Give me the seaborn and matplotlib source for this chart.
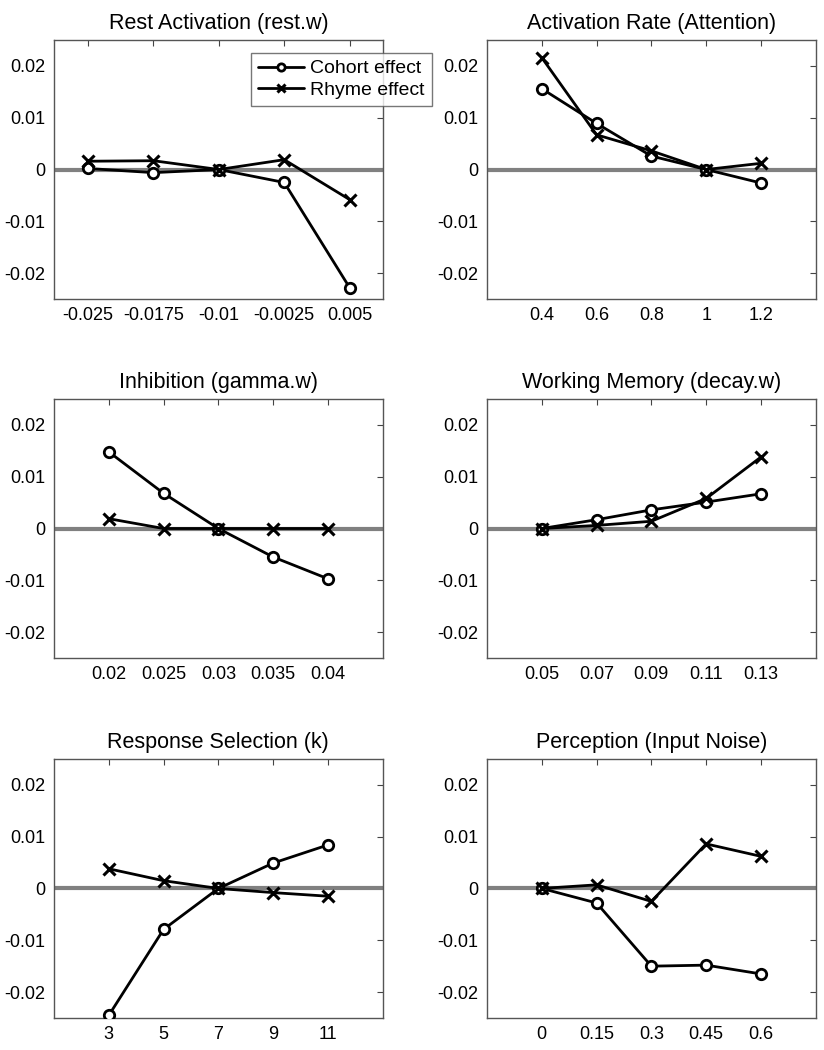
import matplotlib
matplotlib.use('Agg')
import matplotlib.pyplot as plt
import seaborn as sns
import pandas as pd

# ── DATA ──────────────────────────────────────────────────────────────────────
TITLES = [
    "Rest Activation (rest.w)",
    "Activation Rate (Attention)",
    "Inhibition (gamma.w)",
    "Working Memory (decay.w)",
    "Response Selection (k)",
    "Perception (Input Noise)",
]

X_REST    = [-0.025, -0.0175, -0.01, -0.0025, 0.005]
X_ATTN    = [0.4, 0.6, 0.8, 1.0, 1.2]
X_GAMMA   = [0.02, 0.025, 0.03, 0.035, 0.04]
X_DECAY   = [0.05, 0.07, 0.09, 0.11, 0.13]
X_K       = [3, 5, 7, 9, 11]
X_NOISE   = [0, 0.15, 0.3, 0.45, 0.6]

XLABELS_REST  = ["-0.025", "-0.0175", "-0.01", "-0.0025", "0.005"]
XLABELS_ATTN  = ["0.4", "0.6", "0.8", "1", "1.2"]
XLABELS_GAMMA = ["0.02", "0.025", "0.03", "0.035", "0.04"]
XLABELS_DECAY = ["0.05", "0.07", "0.09", "0.11", "0.13"]
XLABELS_K     = ["3", "5", "7", "9", "11"]
XLABELS_NOISE = ["0", "0.15", "0.3", "0.45", "0.6"]

COHORT_REST  = [0.0002, -0.0006, 0.0, -0.0025, -0.0228]
RHYME_REST   = [0.0016, 0.0017, 0.0, 0.0019, -0.0058]
COHORT_ATTN  = [0.0156, 0.0089, 0.0026, 0.0, -0.0026]
RHYME_ATTN   = [0.0216, 0.0067, 0.0036, 0.0, 0.0012]
COHORT_GAMMA = [0.0148, 0.0068, 0.0, -0.0055, -0.0097]
RHYME_GAMMA  = [0.0019, 0.0, 0.0, 0.0, 0.0]
COHORT_DECAY = [0.0, 0.0017, 0.0036, 0.0051, 0.0067]
RHYME_DECAY  = [0.0, 0.0006, 0.0014, 0.0058, 0.0138]
COHORT_K     = [-0.0245, -0.0079, 0.0, 0.0049, 0.0084]
RHYME_K      = [0.0038, 0.0015, 0.0, -0.0008, -0.0015]
COHORT_NOISE = [0.0, -0.0028, -0.0150, -0.0148, -0.0165]
RHYME_NOISE  = [0.0, 0.0007, -0.0025, 0.0086, 0.0062]

YTICKS  = [-0.02, -0.01, 0, 0.01, 0.02]
YLABELS = ["-0.02", "-0.01", "0", "0.01", "0.02"]
# ─────────────────────────────────────────────────────────────────────────────

PANELS = [
    (X_REST,  XLABELS_REST,  COHORT_REST,  RHYME_REST,  (-0.0289, 0.0088)),
    (X_ATTN,  XLABELS_ATTN,  COHORT_ATTN,  RHYME_ATTN,  (0.2, 1.4)),
    (X_GAMMA, XLABELS_GAMMA, COHORT_GAMMA, RHYME_GAMMA, (0.015, 0.045)),
    (X_DECAY, XLABELS_DECAY, COHORT_DECAY, RHYME_DECAY, (0.03, 0.15)),
    (X_K,     XLABELS_K,     COHORT_K,     RHYME_K,     (1, 13)),
    (X_NOISE, XLABELS_NOISE, COHORT_NOISE, RHYME_NOISE, (-0.15, 0.75)),
]

sns.set_style("white")
plt.rcParams['font.family'] = ['Liberation Sans', 'DejaVu Sans']
plt.rcParams['text.color'] = 'black'
plt.rcParams['xtick.labelcolor'] = 'black'
plt.rcParams['ytick.labelcolor'] = 'black'

fig = plt.figure(figsize=(8.24, 10.5), dpi=100)

lefts = [0.0655, 0.591]
bottoms = [0.7152, 0.3733, 0.0305]
w, h = 0.399, 0.2467

for i, (xs, xl, coh, rhy, xlim) in enumerate(PANELS):
    ax = fig.add_axes([lefts[i % 2], bottoms[i // 2], w, h])
    ax.axhline(0, color='#808080', lw=3, zorder=1)

    df = pd.DataFrame({"x": xs, "Cohort effect": coh, "Rhyme effect": rhy})
    sns.lineplot(data=df, x="x", y="Cohort effect", ax=ax, color='black',
                 lw=2, marker='o', ms=7.5, mfc='white', mec='black', mew=2,
                 label="Cohort effect", legend=False, zorder=3)
    sns.lineplot(data=df, x="x", y="Rhyme effect", ax=ax, color='black',
                 lw=2, marker='x', ms=9, mec='black', mew=2.2,
                 label="Rhyme effect", legend=False, zorder=3)

    ax.set_xlim(*xlim)
    ax.set_ylim(-0.025, 0.025)
    ax.set_xticks(xs)
    ax.set_xticklabels(xl)
    ax.set_yticks(YTICKS)
    ax.set_yticklabels(YLABELS)
    ax.set_xlabel("")
    ax.set_ylabel("")
    ax.set_title(TITLES[i], fontsize=15.5, pad=8, color='black')
    ax.tick_params(direction='in', top=True, right=True, length=4,
                   width=0.8, color='#444444', labelsize=13, pad=6)
    for sp in ax.spines.values():
        sp.set_color('#555555')
        sp.set_linewidth(1.0)

    if i == 0:
        leg = ax.legend(loc='upper left', bbox_to_anchor=(0.599, 0.95),
                        fontsize=14, frameon=True, fancybox=False,
                        handlelength=2.4, borderpad=0.35, labelspacing=0.2,
                        handletextpad=0.3, borderaxespad=0, markerscale=0.7)
        leg.get_frame().set_edgecolor('#555555')
        leg.get_frame().set_linewidth(1.0)
        leg.set_zorder(10)

fig.savefig("out.png", dpi=100)
